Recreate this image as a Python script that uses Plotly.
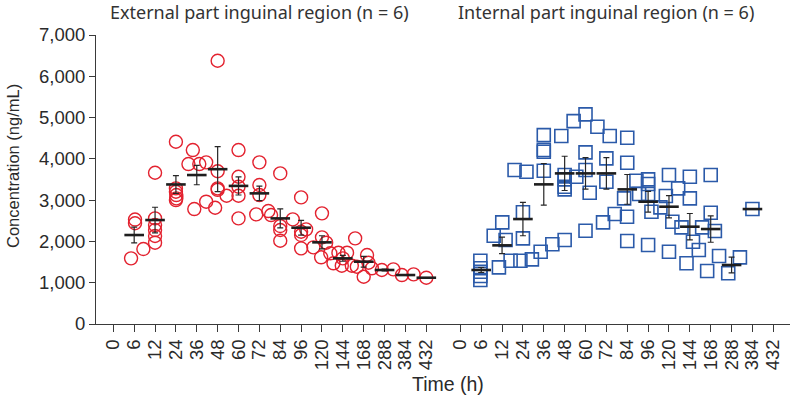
import plotly.graph_objects as go
from plotly.subplots import make_subplots

# ---------------- data ----------------
time_labels = ["0", "6", "12", "24", "36", "48", "60", "72", "84", "96",
               "120", "144", "168", "288", "384", "432"]
time_index = list(range(len(time_labels)))

# External part inguinal region: individual samples (position on the time-index scale, ng/mL)
ext_pos = [0.85, 1.04, 1.04, 1.44,
           2.0, 2.0, 2.0, 2.0, 2.0, 2.0,
           3.0, 3.0, 3.0, 3.02, 3.02, 3.0,
           3.6, 3.81, 4.12, 4.45, 3.88, 4.45, 4.88,
           5.0, 5.0, 5.0, 5.0, 5.43,
           6.0, 6.0, 6.0, 6.0, 6.0,
           7.0, 7.0, 7.0, 6.85, 7.43, 7.56,
           8.0, 8.0, 8.0, 8.0, 8.6,
           9.0, 9.0, 9.0, 9.0, 9.24, 9.59,
           10.0, 10.0, 10.2, 9.96, 10.4, 10.55,
           10.79, 11.0, 11.2, 10.95, 11.43, 11.59,
           12.0, 12.16, 12.23, 12.39, 11.67,
           12.87, 13.42,
           13.83, 14.39,
           15.0]
ext_conc = [1590, 2530, 2440, 1816,
            3664, 2558, 2397, 2276, 2131, 1969,
            4414, 3285, 3203, 3123, 3043, 3002,
            3874, 4213, 3874, 3915, 2784, 2962, 2816,
            6376, 3700, 3285, 3250, 3107,
            4213, 3567, 3325, 3107, 2558,
            3915, 3366, 3123, 2655, 2736, 2639,
            3648, 2373, 2276, 2017, 2534,
            3067, 2235, 2155, 1832, 2293, 1857,
            2680, 2099, 1969, 1615, 1712, 1470,
            1727, 1590, 1727, 1412, 1412, 2075,
            1145, 1671, 1484, 1349, 1388,
            1308, 1324,
            1186, 1203,
            1121]
ext_mean_idx = [1, 2, 3, 4, 5, 6, 7, 8, 9, 10, 11, 12, 13, 14, 15]
ext_mean = [2155, 2518, 3380, 3608, 3750, 3345, 3164, 2558, 2332, 1978,
            1590, 1509, 1308, 1186, 1121]
ext_err = [190, 310, 215, 235, 545, 220, 175, 230, 180, 160,
           70, 130, 20, 0, 0]

# Internal part inguinal region
int_pos = [0.96, 0.96, 0.96, 0.96, 0.96, 1.85,
           2.01, 1.6, 2.17,
           2.41, 2.88, 3.43, 3.85, 4.41,
           3.0, 3.0, 2.6, 3.17,
           4.0, 4.0, 4.0, 4.0, 4.84,
           5.0, 5.0, 5.0, 5.0, 5.0, 5.56, 5.43,
           6.0, 6.0, 6.0, 6.2, 6.0,
           6.57, 7.16, 6.84, 7.4,
           7.0, 7.0,
           8.0, 8.0, 7.85, 7.99, 8.0, 8.44, 8.57,
           9.0, 9.0, 9.0, 9.16, 9.0,
           9.59, 9.85, 10.0, 10.44, 10.0, 10.16, 10.6,
           11.0, 11.0, 11.15, 11.43, 10.84, 11.59,
           12.0, 12.0, 12.2, 11.83, 12.4,
           12.84, 13.4,
           14.0]
int_conc = [1533, 1349, 1267, 1162, 1065, 1372,
            2462, 2138, 2034,
            1533, 1533, 1566, 1751, 1930,
            2705, 2075, 3729, 3688,
            4576, 4213, 4172, 3712, 4552,
            2034, 3608, 3503, 3325, 3261, 3567, 4915,
            5077, 4157, 3729, 3180, 2259,
            4777, 4552, 2462, 2663,
            4011, 3446,
            4511, 3906, 3043, 2598, 2010, 3470, 3148,
            3503, 3390, 3148, 2720, 1913,
            2825, 3099, 3608, 3285, 1751, 2478, 2341,
            3567, 3043, 1993, 1792, 1470, 2341,
            3608, 2695, 2252, 1283, 1646,
            1228, 1614,
            2784]
int_mean_idx = [1, 2, 3, 4, 5, 6, 7, 8, 9, 10, 11, 12, 13, 14]
int_mean = [1308, 1905, 2542, 3382, 3648, 3648, 3648, 3261, 2962, 2841,
            2357, 2300, 1429, 2784]
int_err = [60, 200, 405, 505, 415, 380, 380, 360, 250, 270,
           320, 320, 190, 0]

# ---------------- figure ----------------
RED = "#e3222f"
BLUE = "#2b5aa9"
AX = "#3a3a3a"
TXT = "#2a2a2a"
TICKFONT = dict(family="Liberation Sans, Arial, sans-serif", size=18.5, color=TXT)

fig = make_subplots(rows=1, cols=2, shared_yaxes=True, horizontal_spacing=0)

fig.add_trace(go.Scatter(
    x=ext_pos, y=ext_conc, mode="markers",
    marker=dict(symbol="circle-open", size=13, color=RED, line=dict(width=1.4, color=RED)),
    showlegend=False, hoverinfo="y"), row=1, col=1)
fig.add_trace(go.Scatter(
    x=ext_mean_idx, y=ext_mean, mode="markers",
    marker=dict(symbol="line-ew", size=14, line=dict(width=2.6, color="#1e1e1e")),
    error_y=dict(type="data", array=ext_err, visible=True, color="#262626",
                 thickness=1.2, width=3),
    showlegend=False), row=1, col=1)

fig.add_trace(go.Scatter(
    x=int_pos, y=int_conc, mode="markers",
    marker=dict(symbol="square-open", size=13, color=BLUE, line=dict(width=1.6, color=BLUE)),
    showlegend=False, hoverinfo="y"), row=1, col=2)
fig.add_trace(go.Scatter(
    x=int_mean_idx, y=int_mean, mode="markers",
    marker=dict(symbol="line-ew", size=14, line=dict(width=2.6, color="#1e1e1e")),
    error_y=dict(type="data", array=int_err, visible=True, color="#262626",
                 thickness=1.2, width=3),
    showlegend=False), row=1, col=2)

xcommon = dict(
    range=[-0.83, 15.8], tickmode="array", tickvals=time_index, ticktext=time_labels,
    tickangle=-90, ticks="outside", ticklen=7, tickwidth=1, tickcolor=AX,
    showline=True, linecolor=AX, linewidth=1, showgrid=False, zeroline=False,
    tickfont=TICKFONT, mirror=False, automargin=False,
)
fig.update_xaxes(**xcommon, domain=[0, 0.5], row=1, col=1)
fig.update_xaxes(**xcommon, domain=[0.5, 1], row=1, col=2)

fig.update_yaxes(range=[0, 7000], tickvals=[0, 1000, 2000, 3000, 4000, 5000, 6000, 7000],
                 tickformat=",d", ticks="outside", ticklen=6, tickwidth=1, tickcolor=AX,
                 showline=True, linecolor=AX, linewidth=1, showgrid=False, zeroline=False,
                 tickfont=TICKFONT, automargin=False, row=1, col=1)
fig.update_yaxes(range=[0, 7000], showline=False, showticklabels=False, ticks="",
                 showgrid=False, zeroline=False, row=1, col=2)

W, H = 793, 400
ML, MR, MT, MB = 96, 3, 35, 76
plot_w = W - ML - MR
plot_h = H - MT - MB

def px_x(px):
    return (px - ML) / plot_w

def px_y(py):
    return (H - MB - py) / plot_h

title_font = dict(family="Noto Sans, Open Sans, sans-serif", size=18, color="#333333")
fig.add_annotation(text="External part inguinal region (n = 6)", xref="paper", yref="paper",
                   x=px_x(259), y=px_y(12), xanchor="center", yanchor="middle",
                   showarrow=False, font=title_font)
fig.add_annotation(text="Internal part inguinal region (n = 6)", xref="paper", yref="paper",
                   x=px_x(606), y=px_y(12), xanchor="center", yanchor="middle",
                   showarrow=False, font=title_font)
fig.add_annotation(text="Concentration (ng/mL)", xref="paper", yref="paper",
                   x=px_x(13), y=px_y(166), xanchor="center", yanchor="middle",
                   textangle=-90, showarrow=False,
                   font=dict(family="Liberation Sans, Arial, sans-serif", size=16.5, color=TXT))
fig.add_annotation(text="Time (h)", xref="paper", yref="paper",
                   x=px_x(448), y=px_y(384), xanchor="center", yanchor="middle",
                   showarrow=False,
                   font=dict(family="Liberation Sans, Arial, sans-serif", size=19.5, color=TXT))

fig.update_layout(
    width=W, height=H,
    margin=dict(l=ML, r=MR, t=MT, b=MB, pad=0),
    paper_bgcolor="white", plot_bgcolor="white",
    showlegend=False,
)

# remove the browser's default 8px page margin so the figure sits at the window's corner
fig.write_html("out.html", config={"displayModeBar": False},
               post_script="document.body.style.margin='0px';")
